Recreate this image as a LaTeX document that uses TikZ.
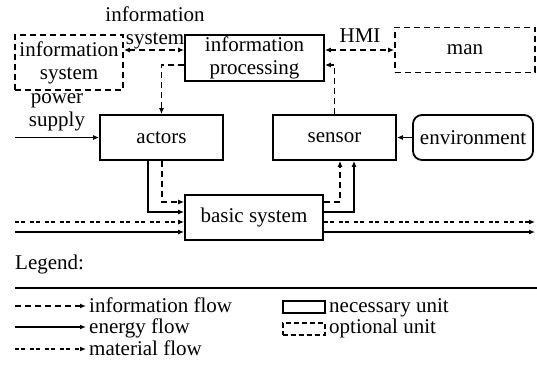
\documentclass[tikz,border=0pt]{standalone}
\usepackage{fontspec}
\setmainfont{Liberation Serif}
\usetikzlibrary{arrows.meta}
\begin{document}
\begin{tikzpicture}[x=1pt,y=-1pt,
  txt/.style={font=\fontsize{21}{23}\selectfont, inner sep=0pt},
  mtxt/.style={txt, align=center},
  unit/.style={txt, draw, line width=1.8pt},
  munit/.style={unit, align=center},
  optunit/.style={unit, dash pattern=on 6pt off 4pt},
  tip/.style={-{Latex[length=6pt,width=5pt]}},
  both/.style={{Latex[length=6pt,width=5pt]}-{Latex[length=6pt,width=5pt]}},
  info/.style={line width=1.8pt, dash pattern=on 6pt off 4pt},
  energy/.style={line width=1.8pt},
  material/.style={line width=1.8pt, dash pattern=on 4pt off 2pt on 4pt off 5pt}]
\useasboundingbox (0,0) rectangle (537,366);

% units
\node[munit, dash pattern=on 6pt off 4pt, minimum width=108pt, minimum height=55pt] (isys) at (69,62.5) {information\\system};
\node[munit, minimum width=139pt, minimum height=46pt] (ip) at (254.5,58) {information\\processing};
\node[optunit, minimum width=140pt, minimum height=45pt] (man) at (465,50) {man};
\node[unit, minimum width=123pt, minimum height=45pt] (act) at (161.5,137.5) {actors};
\node[unit, minimum width=123pt, minimum height=45pt] (sen) at (334.5,137.5) {sensor};
\node[unit, rounded corners=9pt, minimum width=120pt, minimum height=45pt] (env) at (473,137.5) {environment};
\node[unit, minimum width=138pt, minimum height=45pt] (bs) at (254,217.5) {basic system};

% labels
\node[mtxt] (lis) at (155,28) {information\\system};
\node[txt] (lhmi) at (360,36) {HMI};
\node[mtxt] (lps) at (57,112) {power\\supply};

% free ends
\coordinate (ps) at (15,137.5);
\coordinate (inm) at (15,222);
\coordinate (ine) at (15,232);
\coordinate (outm) at (535,222);
\coordinate (oute) at (535,232);

% information connectors
\draw[info,both] ([yshift=12.5pt]isys.east) -- ([yshift=8pt]ip.west);
\draw[info,both] ([yshift=8pt]ip.east) -- (man.west);
\draw[info,tip] ([yshift=-7pt]ip.west) -| (act.north);
\draw[info,tip] (sen.north) |- ([yshift=-7pt]ip.east);
\draw[info,tip] ([xshift=0.5pt]act.south) |- ([yshift=15.5pt]bs.west);
\draw[info,tip] ([yshift=15.5pt]bs.east) -| ([xshift=5.5pt]sen.south);

% energy connectors
\draw[energy,tip] (ps) -- (act.west);
\draw[energy,tip] (env.west) -- (sen.east);
\draw[energy,tip] ([xshift=-13.5pt]act.south) |- ([yshift=5.5pt]bs.west);
\draw[energy,tip] ([yshift=5.5pt]bs.east) -| ([xshift=19.5pt]sen.south);
\draw[energy,tip] (ine) -- ([yshift=-14.5pt]bs.west);
\draw[energy,tip] ([yshift=-14.5pt]bs.east) -- (oute);

% material connectors
\draw[material,tip] (inm) -- ([yshift=-4.5pt]bs.west);
\draw[material,tip] ([yshift=-4.5pt]bs.east) -- (outm);

% legend
\node[txt, anchor=west] (leg) at (15,264) {Legend:};
\coordinate (l1) at (15,288);
\coordinate (l2) at (537,288);
\draw[line width=1.8pt] (l1) -- (l2);

\coordinate (a1) at (15,306);
\coordinate (b1) at (86,306);
\coordinate (a2) at (15,327);
\coordinate (b2) at (86,327);
\coordinate (a3) at (15,349);
\coordinate (b3) at (86,349);
\draw[info,tip] (a1) -- (b1);
\draw[energy,tip] (a2) -- (b2);
\draw[material,tip] (a3) -- (b3);
\node[txt, anchor=base west] (t1) at (89,312) {information flow};
\node[txt, anchor=base west] (t2) at (89,333) {energy flow};
\node[txt, anchor=base west] (t3) at (89,355) {material flow};

\node[unit, minimum width=42pt, minimum height=12pt] (nu) at (304,307) {};
\node[optunit, minimum width=42pt, minimum height=12pt, dash pattern=on 5pt off 3pt] (ou) at (304,329) {};
\node[txt, anchor=base west] (t4) at (329,312) {necessary unit};
\node[txt, anchor=base west] (t5) at (329,333) {optional unit};
\end{tikzpicture}
\end{document}
